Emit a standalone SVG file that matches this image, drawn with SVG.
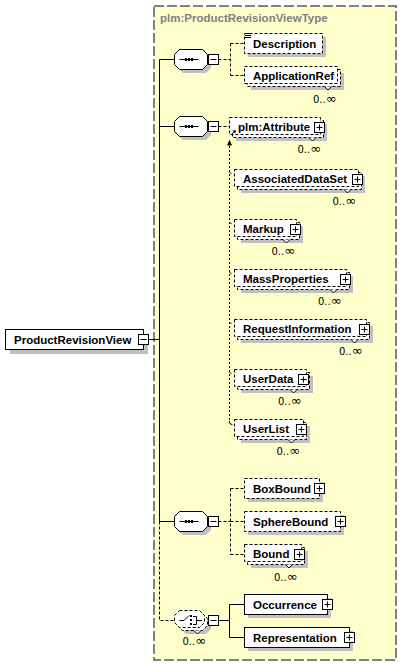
<svg xmlns="http://www.w3.org/2000/svg" width="400" height="665" viewBox="0 0 400 665">
<defs>
<style>
.bg{fill:#ffffcc;stroke:#808080;stroke-width:2;stroke-dasharray:10 3}
.ttl{font-family:"Liberation Sans",Arial,sans-serif;font-weight:bold;font-size:11.5px;fill:#808080}
.t{font-family:"Liberation Sans",Arial,sans-serif;font-weight:bold;font-size:11.5px;fill:#000}
.o{font-family:"DejaVu Sans",Verdana,sans-serif;font-size:10px;fill:#000}
.o tspan{font-size:13px}
.b{fill:#fff;stroke:#000;stroke-width:1}
.d{stroke-dasharray:3 2}
.sh{fill:#c0c0c0;stroke:none}
.c{fill:none;stroke:#000;stroke-width:1}
.cd{fill:none;stroke:#000;stroke-width:1;stroke-dasharray:3 2}
.cs{fill:none;stroke:#000;stroke-width:1;stroke-dasharray:2 2}
.k{fill:#000;stroke:none}
</style>
<path id="oct" d="M5,0 H28 L33,5 V15 L28,20 H5 L0,15 V5 Z"/>
<path id="oct2" d="M5,0 H25 L30,5 V12 L25,17 H5 L0,12 V5 Z"/>
<g id="minus"><rect class="b" x="0" y="0" width="10" height="10"/><path class="c" d="M2,5 H8"/></g>
<g id="plus"><rect class="b" x="0" y="0" width="10" height="10"/><path class="c" d="M2,5 H8 M5,2 V8"/></g>
<g id="seqi"><path class="c" d="M5,10 H24"/><rect class="k" x="10.5" y="8.5" width="2" height="3"/><rect class="k" x="13.5" y="8.5" width="2" height="3"/><rect class="k" x="16.5" y="8.5" width="2" height="3"/></g>
</defs>

<rect class="bg" x="154" y="6" width="242" height="654"/>
<text class="ttl" x="160" y="22">plm:ProductRevisionViewType</text>

<g id="connectors">
<path class="c" d="M147.5,339.5 H159.5 M159.5,59.5 V521.5 M159.5,59.5 H174.5 M159.5,126.5 H174.5 M159.5,521.5 H174.5"/>
<path class="cd" d="M159.5,521.5 V620.5 H174.5"/>
<path class="cd" d="M218.5,59.5 H230.5"/>
<path class="cd" d="M230.5,43.5 V75.5"/>
<path class="cd" d="M230.5,43.5 H244.5"/>
<path class="cd" d="M230.5,75.5 H244.5"/>
<path class="cd" d="M218.5,126.5 H229.5"/>
<polygon class="k" points="229.5,139.5 227,145.5 232,145.5"/>
<path class="cs" d="M229.5,146 V421"/>
<path class="c" d="M229.5,421 V422.5 Q229.5,424.5 232.5,424.5"/>
<path class="c" d="M229.5,172 L231.5,174 M229.5,222 L231.5,224 M229.5,272 L231.5,274 M229.5,322 L231.5,324 M229.5,372 L231.5,374"/>
<path class="cd" d="M218.5,521.5 H230.5"/>
<path class="cd" d="M230.5,488.5 V554.5"/>
<path class="cd" d="M230.5,488.5 H244.5"/>
<path class="cd" d="M230.5,521.5 H244.5"/>
<path class="cd" d="M230.5,554.5 H244.5"/>
<path class="c" d="M218.5,620.5 H229.5 M229.5,604.5 V637.5 M229.5,604.5 H244.5 M229.5,637.5 H244.5"/>
</g>

<g id="ProductRevisionView">
<rect class="sh" x="10" y="334" width="138" height="20"/>
<rect class="b" x="5.5" y="329.5" width="138" height="20"/>
<text class="t" x="14" y="343.5">ProductRevisionView</text>
<use href="#minus" x="138.5" y="334.5"/>
</g>

<g id="sequence1">
<use href="#oct" class="sh" x="178" y="53"/>
<use href="#oct" class="b" x="174.5" y="49.5"/>
<use href="#seqi" x="174.5" y="49.5"/>
<use href="#minus" x="208.5" y="54.5"/>
</g>

<g id="sequence2">
<use href="#oct" class="sh" x="178" y="120"/>
<use href="#oct" class="b" x="174.5" y="116.5"/>
<use href="#seqi" x="174.5" y="116.5"/>
<use href="#minus" x="208.5" y="121.5"/>
</g>

<g id="sequence3">
<use href="#oct" class="sh" x="178" y="515"/>
<use href="#oct" class="b" x="174.5" y="511.5"/>
<use href="#seqi" x="174.5" y="511.5"/>
<use href="#minus" x="208.5" y="516.5"/>
</g>

<g id="choice">
<use href="#oct2" class="sh" x="181" y="617"/>
<use href="#oct2" class="b d" x="177.5" y="613.5"/>
<path class="b" d="M194,630.5 L197.5,634 L201,630.5"/>
<use href="#oct2" class="b d" x="174.5" y="610.5"/>
<path class="c" d="M179.5,620.5 H184 L189,615.5 M193,616.5 H196.5 V624.5 H193 M196.5,620.5 H202"/>
<rect class="k" x="190" y="615" width="2" height="2"/>
<rect class="k" x="190" y="619" width="2" height="2"/>
<rect class="k" x="190" y="623" width="2" height="2"/>
<use href="#minus" x="208.5" y="615.5"/>
<text class="o" x="182.5" y="645">0..<tspan>∞</tspan></text>
</g>

<g id="Description">
<rect class="sh" x="248" y="37" width="78" height="20"/>
<rect class="b d" x="244.5" y="33.5" width="78" height="20"/>
<path class="c" d="M245,33.5 H251 M245,35.5 H251 M245,37.5 H251"/>
<text class="t" x="253" y="47.5">Description</text>
</g>

<g id="ApplicationRef">
<rect class="sh" x="251" y="73" width="93" height="17"/>
<rect class="b d" x="247.5" y="69.5" width="93" height="17"/>
<path class="b" d="M324.5,86.5 L328,90 L331.5,86.5"/>
<rect class="b d" x="244.5" y="66.5" width="93" height="17"/>
<text class="t" x="253" y="79.5">ApplicationRef</text>
<text class="o" x="313" y="103">0..<tspan>∞</tspan></text>
</g>

<g id="plmAttribute">
<rect class="sh" x="236" y="124" width="91" height="17"/>
<rect class="b d" x="232.5" y="120.5" width="91" height="17"/>
<path class="b" d="M309,137.5 L312.5,141 L316,137.5"/>
<rect class="b d" x="229.5" y="117.5" width="91" height="17"/>
<text class="t" x="238" y="130.5">plm:Attribute</text>
<path class="c" d="M231.5,134.5 L234.5,131.5"/>
<polygon class="k" points="236,130 232.5,130.8 235.2,133.5"/>
<use href="#plus" x="314.5" y="122.5"/>
<text class="o" x="297.5" y="153">0..<tspan>∞</tspan></text>
</g>

<g id="AssociatedDataSet">
<rect class="sh" x="241" y="176" width="124" height="17"/>
<rect class="b d" x="237.5" y="172.5" width="124" height="17"/>
<path class="b" d="M344,189.5 L347.5,193 L351,189.5"/>
<rect class="b d" x="234.5" y="169.5" width="124" height="17"/>
<text class="t" x="243" y="182.5">AssociatedDataSet</text>
<use href="#plus" x="352.5" y="174.5"/>
<text class="o" x="332.5" y="205">0..<tspan>∞</tspan></text>
</g>

<g id="Markup">
<rect class="sh" x="241" y="226" width="62" height="17"/>
<rect class="b d" x="237.5" y="222.5" width="62" height="17"/>
<path class="b" d="M283,239.5 L286.5,243 L290,239.5"/>
<rect class="b d" x="234.5" y="219.5" width="62" height="17"/>
<text class="t" x="243" y="232.5">Markup</text>
<use href="#plus" x="290.5" y="224.5"/>
<text class="o" x="271.5" y="255">0..<tspan>∞</tspan></text>
</g>

<g id="MassProperties">
<rect class="sh" x="241" y="276" width="112" height="17"/>
<rect class="b d" x="237.5" y="272.5" width="112" height="17"/>
<path class="b" d="M330,289.5 L333.5,293 L337,289.5"/>
<rect class="b d" x="234.5" y="269.5" width="112" height="17"/>
<text class="t" x="243" y="282.5">MassProperties</text>
<use href="#plus" x="340.5" y="274.5"/>
<text class="o" x="318" y="305">0..<tspan>∞</tspan></text>
</g>

<g id="RequestInformation">
<rect class="sh" x="241" y="326" width="132" height="17"/>
<rect class="b d" x="237.5" y="322.5" width="132" height="17"/>
<path class="b" d="M351,339.5 L354.5,343 L358,339.5"/>
<rect class="b d" x="234.5" y="319.5" width="132" height="17"/>
<text class="t" x="243" y="332.5">RequestInformation</text>
<use href="#plus" x="359.5" y="324.5"/>
<text class="o" x="339" y="355">0..<tspan>∞</tspan></text>
</g>

<g id="UserData">
<rect class="sh" x="241" y="376" width="72" height="17"/>
<rect class="b d" x="237.5" y="372.5" width="72" height="17"/>
<path class="b" d="M290,389.5 L293.5,393 L297,389.5"/>
<rect class="b d" x="234.5" y="369.5" width="72" height="17"/>
<text class="t" x="243" y="382.5">UserData</text>
<use href="#plus" x="298.5" y="374.5"/>
<text class="o" x="278" y="405">0..<tspan>∞</tspan></text>
</g>

<g id="UserList">
<rect class="sh" x="241" y="426" width="69" height="17"/>
<rect class="b d" x="237.5" y="422.5" width="69" height="17"/>
<path class="b" d="M288,439.5 L291.5,443 L295,439.5"/>
<rect class="b d" x="234.5" y="419.5" width="69" height="17"/>
<text class="t" x="243" y="432.5">UserList</text>
<use href="#plus" x="296.5" y="424.5"/>
<text class="o" x="276.5" y="455">0..<tspan>∞</tspan></text>
</g>

<g id="BoxBound">
<rect class="sh" x="248" y="482" width="75" height="20"/>
<rect class="b d" x="244.5" y="478.5" width="75" height="20"/>
<text class="t" x="253" y="492.5">BoxBound</text>
<use href="#plus" x="314.5" y="483.5"/>
</g>

<g id="SphereBound">
<rect class="sh" x="248" y="515" width="96" height="20"/>
<rect class="b d" x="244.5" y="511.5" width="96" height="20"/>
<text class="t" x="253" y="525.5">SphereBound</text>
<use href="#plus" x="335.5" y="516.5"/>
</g>

<g id="Bound">
<rect class="sh" x="251" y="551" width="57" height="17"/>
<rect class="b d" x="247.5" y="547.5" width="57" height="17"/>
<path class="b" d="M285.5,564.5 L289,568 L292.5,564.5"/>
<rect class="b d" x="244.5" y="544.5" width="57" height="17"/>
<text class="t" x="253" y="557.5">Bound</text>
<use href="#plus" x="294.5" y="549.5"/>
<text class="o" x="274" y="581">0..<tspan>∞</tspan></text>
</g>

<g id="Occurrence">
<rect class="sh" x="248" y="598" width="83" height="20"/>
<rect class="b" x="244.5" y="594.5" width="83" height="20"/>
<text class="t" x="253" y="608.5">Occurrence</text>
<use href="#plus" x="322.5" y="599.5"/>
</g>

<g id="Representation">
<rect class="sh" x="248" y="631" width="105" height="20"/>
<rect class="b" x="244.5" y="627.5" width="105" height="20"/>
<text class="t" x="253" y="641.5">Representation</text>
<use href="#plus" x="344.5" y="632.5"/>
</g>
</svg>
